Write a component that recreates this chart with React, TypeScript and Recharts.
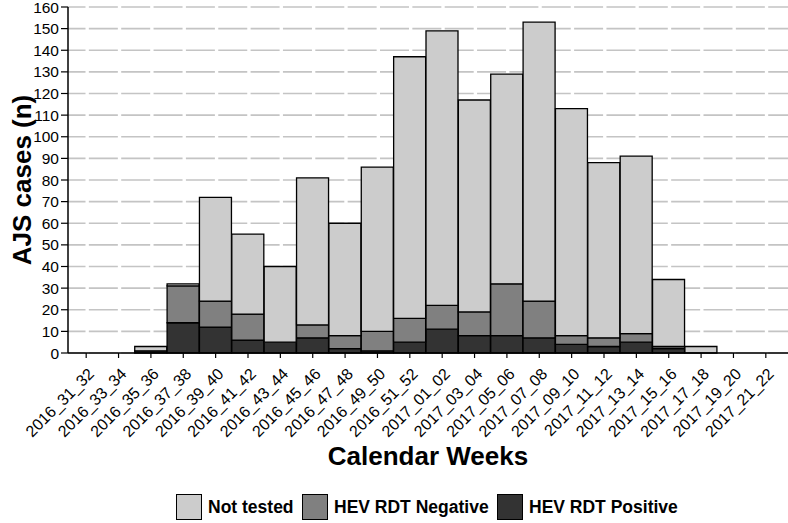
import React from 'react';
import { BarChart, Bar, XAxis, YAxis, CartesianGrid } from 'recharts';

const weeks = [
  '2016_31_32', '2016_33_34', '2016_35_36', '2016_37_38', '2016_39_40', '2016_41_42',
  '2016_43_44', '2016_45_46', '2016_47_48', '2016_49_50', '2016_51_52', '2017_01_02',
  '2017_03_04', '2017_05_06', '2017_07_08', '2017_09_10', '2017_11_12', '2017_13_14',
  '2017_15_16', '2017_17_18', '2017_19_20', '2017_21_22',
];
const positive = [0, 0, 1, 14, 12, 6, 5, 7, 2, 1, 5, 11, 8, 8, 7, 4, 3, 5, 2, 0, 0, 0];
const negative = [0, 0, 0, 17, 12, 12, 0, 6, 6, 9, 11, 11, 11, 24, 17, 4, 4, 4, 1, 0, 0, 0];
const notTested = [0, 0, 2, 1, 48, 37, 35, 68, 52, 76, 121, 127, 98, 97, 129, 105, 81, 82, 31, 3, 0, 0];
const yTicks = [0, 10, 20, 30, 40, 50, 60, 70, 80, 90, 100, 110, 120, 130, 140, 150, 160];

const legendItems = [
  { name: 'Not tested', color: '#cccccc', left: 176 },
  { name: 'HEV RDT Negative', color: '#808080', left: 302 },
  { name: 'HEV RDT Positive', color: '#333333', left: 497 },
];

const data = weeks.map((week, i) => ({
  week,
  positive: positive[i],
  negative: negative[i],
  notTested: notTested[i],
}));

const FONT = 'Arial, "Liberation Sans", sans-serif';

const WeekTick = ({ x, y, payload }: any) => {
  const tx = x + 5;
  const ty = y + 11;
  return (
    <text x={tx} y={ty} dy="0.35em" textAnchor="end" transform={`rotate(-45 ${tx} ${ty})`}
      fontSize={16} fontFamily={FONT} fill="#000">
      {payload.value}
    </text>
  );
};

const GridLine = (props: any) => (
  <line x1={props.x1} y1={props.y1} x2={props.x2} y2={props.y2} stroke="#c4c4c4" strokeWidth={1.6}
    strokeDasharray="29 3.35" strokeDashoffset={11.5} />
);

const XTitle = ({ viewBox }: any) => (
  <text x={viewBox.x + viewBox.width / 2} y={465} textAnchor="middle" fontSize={26} fontWeight="bold" fontFamily={FONT} fill="#000">
    Calendar Weeks
  </text>
);

const YTitle = ({ viewBox }: any) => {
  const cy = viewBox.y + viewBox.height / 2;
  return (
    <text x={22} y={cy} dy="0.35em" textAnchor="middle" transform={`rotate(-90 22 ${cy})`} fontSize={26} fontWeight="bold" fontFamily={FONT} fill="#000">
      AJS cases (n)
    </text>
  );
};

export default function App() {
  return (
    <div style={{ position: 'absolute', left: 0, top: 0, width: 788, height: 523, background: '#fff', fontFamily: FONT }}>
      <BarChart width={788} height={523} data={data} barCategoryGap={0} margin={{ top: 7, right: 0, left: 0, bottom: 0 }}>
        <CartesianGrid vertical={false} horizontal={<GridLine />} />
        <XAxis dataKey="week" interval={0} height={170} padding={{ left: 2, right: 6 }}
          tick={<WeekTick />} tickSize={5} tickLine={{ stroke: '#000', strokeWidth: 1.2 }}
          axisLine={{ stroke: '#000', strokeWidth: 1.5 }} label={<XTitle />} />
        <YAxis width={68} domain={[0, 160]} ticks={yTicks} interval={0} tickSize={7}
          tick={{ fontSize: 15.5, fill: '#000', fontFamily: FONT }}
          tickLine={{ stroke: '#000', strokeWidth: 1.2 }} axisLine={{ stroke: '#000', strokeWidth: 1.5 }}
          label={<YTitle />} />
        <Bar dataKey="positive" stackId="a" fill="#333333" stroke="#000" strokeWidth={1.3} isAnimationActive={false} />
        <Bar dataKey="negative" stackId="a" fill="#808080" stroke="#000" strokeWidth={1.3} isAnimationActive={false} />
        <Bar dataKey="notTested" stackId="a" fill="#cccccc" stroke="#000" strokeWidth={1.3} isAnimationActive={false} />
      </BarChart>
      {legendItems.map((item) => (
        <div key={item.name} style={{ position: 'absolute', left: item.left, top: 494, height: 26, display: 'flex', alignItems: 'center' }}>
          <div style={{ width: 24, height: 24, background: item.color, border: '1.3px solid #000' }} />
          <span style={{ marginLeft: 6, fontSize: 17.5, fontWeight: 'bold', color: '#000', whiteSpace: 'nowrap' }}>{item.name}</span>
        </div>
      ))}
    </div>
  );
}
